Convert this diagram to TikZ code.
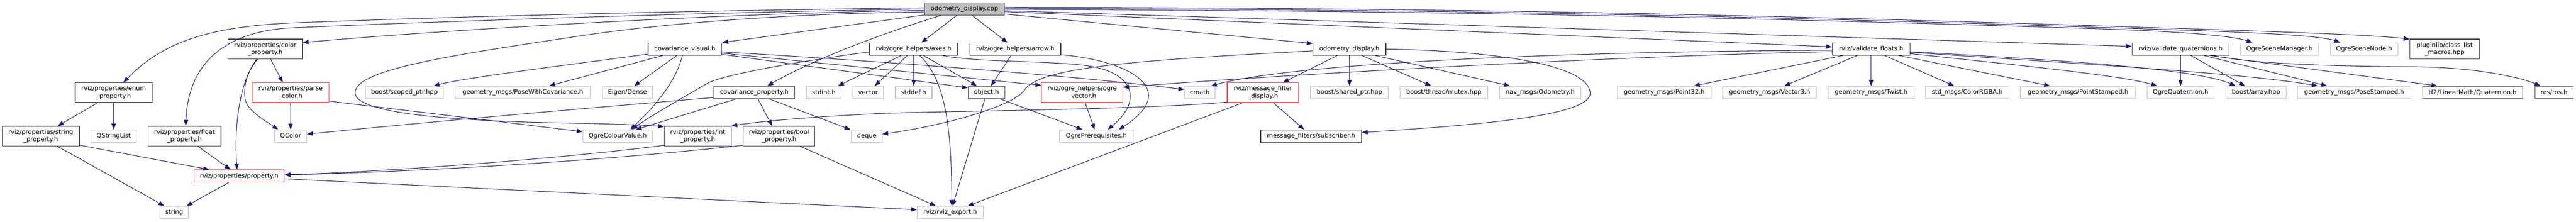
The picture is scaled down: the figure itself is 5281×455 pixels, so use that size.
\documentclass[tikz,border=0pt]{standalone}
\usepackage{fontspec}
\newfontfamily\dvs{DejaVu Sans}
\usetikzlibrary{arrows.meta}
\definecolor{edgec}{HTML}{191970}
\definecolor{docc}{HTML}{404040}
\definecolor{extc}{HTML}{BFBFBF}
\definecolor{redc}{HTML}{FF4444}
\definecolor{rootc}{HTML}{BFBFBF}
\begin{document}
\begin{tikzpicture}[x=1pt,y=-1pt,
 nbox/.style={draw, rectangle, inner sep=0pt, line width=1.2pt, font=\dvs\fontsize{12.7}{15}\selectfont, align=center, fill=white, text=black},
 docn/.style={nbox, draw=docc},
 extn/.style={nbox, draw=extc},
 redn/.style={nbox, draw=redc},
 rootn/.style={nbox, draw=docc, fill=rootc},
 one/.style={minimum height=25.5pt},
 two/.style={minimum height=40.5pt},
 wd/.style={minimum width=#1pt},
 dep/.style={draw=edgec, line width=1.1pt, -{Triangle[length=12pt,width=9pt]}}]
\fill[white] (0,0) rectangle (5281,455);
\useasboundingbox (0,0) rectangle (5281,455);

% row 0
\node[rootn,one,wd=164.5] (cpp) at (1977.2,18.5) {odometry\_display.cpp};
% row 1
\node[docn,two,wd=152.3] (colorp) at (543.8,100.5) {rviz/properties/color\\\_property.h};
\node[docn,one,wd=150.7] (covvis) at (1404,100.5) {covariance\_visual.h};
\node[docn,one,wd=180.6] (axes) at (1873.1,100.5) {rviz/ogre\_helpers/axes.h};
\node[docn,one,wd=186.7] (arrowh) at (2081.3,100.5) {rviz/ogre\_helpers/arrow.h};
\node[docn,one,wd=149.6] (odoh) at (2766.4,100.5) {odometry\_display.h};
\node[docn,one,wd=159.3] (valf) at (3836,100.5) {rviz/validate\_floats.h};
\node[docn,one,wd=199] (valq) at (4470.3,100.5) {rviz/validate\_quaternions.h};
\node[extn,one,wd=160] (scenemgr) at (4673.1,100.5) {OgreSceneManager.h};
\node[extn,one,wd=138.5] (scenenode) at (4846.5,100.5) {OgreSceneNode.h};
\node[docn,two,wd=142.7] (plugin) at (5011.7,100.5) {pluginlib/class\_list\\\_macros.hpp};
% row 2
\node[docn,two,wd=157.7] (enump) at (233,190) {rviz/properties/enum\\\_property.h};
\node[redn,two,wd=156.5] (parsec) at (595.7,190) {rviz/properties/parse\\\_color.h};
\node[extn,one,wd=160] (scoped) at (829.2,189.5) {boost/scoped\_ptr.hpp};
\node[extn,one,wd=277] (posecov) at (1071.8,189.5) {geometry\_msgs/PoseWithCovariance.h};
\node[extn,one,wd=103] (eigen) at (1286.3,189.5) {Eigen/Dense};
\node[docn,one,wd=166] (covprop) at (1546.3,189.5) {covariance\_property.h};
\node[extn,one,wd=70.7] (stdint) at (1688.9,189.5) {stdint.h};
\node[extn,one,wd=62.7] (vector) at (1779.7,189.5) {vector};
\node[extn,one,wd=75] (stddef) at (1873.1,189.5) {stddef.h};
\node[docn,one,wd=75] (object) at (2022.3,189.5) {object.h};
\node[redn,two,wd=166.8] (ogrevec) at (2218.6,190) {rviz/ogre\_helpers/ogre\\\_vector.h};
\node[extn,one,wd=62.8] (cmath) at (2459.7,189.5) {cmath};
\node[redn,two,wd=146.6] (mfd) at (2589.2,190) {rviz/message\_filter\\\_display.h};
\node[extn,one,wd=159.2] (sharedptr) at (2766.6,189.5) {boost/shared\_ptr.hpp};
\node[extn,one,wd=179.4] (mutex) at (2960,189.5) {boost/thread/mutex.hpp};
\node[extn,one,wd=166.8] (navodo) at (3157.3,189.5) {nav\_msgs/Odometry.h};
\node[extn,one,wd=192.1] (point32) at (3411.8,189.5) {geometry\_msgs/Point32.h};
\node[extn,one,wd=191.8] (vector3) at (3627.8,189.5) {geometry\_msgs/Vector3.h};
\node[extn,one,wd=176.3] (twist) at (3836,189.5) {geometry\_msgs/Twist.h};
\node[extn,one,wd=170.5] (colorrgba) at (4033,189.5) {std\_msgs/ColorRGBA.h};
\node[extn,one,wd=235.3] (pointst) at (4260,189.5) {geometry\_msgs/PointStamped.h};
\node[extn,one,wd=137.8] (ogrequat) at (4470.3,189.5) {OgreQuaternion.h};
\node[extn,one,wd=122.8] (boostarray) at (4625.1,189.5) {boost/array.hpp};
\node[extn,one,wd=232.1] (posest) at (4826.2,189.5) {geometry\_msgs/PoseStamped.h};
\node[docn,one,wd=205.4] (tf2) at (5069,189.5) {tf2/LinearMath/Quaternion.h};
\node[docn,one,wd=78.6] (rosh) at (5236,189.5) {ros/ros.h};
% row 3
\node[docn,two,wd=158] (strp) at (83.6,279) {rviz/properties/string\\\_property.h};
\node[extn,one,wd=93.3] (qstringlist) at (233,279) {QStringList};
\node[docn,two,wd=149.7] (floatp) at (378.3,279) {rviz/properties/float\\\_property.h};
\node[extn,one,wd=66.6] (qcolor) at (595.8,279) {QColor};
\node[extn,one,wd=142.8] (ogrecolour) at (1266.4,279) {OgreColourValue.h};
\node[docn,two,wd=137] (intp) at (1430.4,279) {rviz/properties/int\\\_property.h};
\node[docn,two,wd=147.4] (boolp) at (1597,279) {rviz/properties/bool\\\_property.h};
\node[extn,one,wd=62.6] (deque) at (1777,279) {deque};
\node[extn,one,wd=150.8] (ogreprereq) at (2247.7,279) {OgrePrerequisites.h};
\node[docn,one,wd=206.7] (subscriber) at (2687.8,279) {message\_filters/subscriber.h};
% rows 4-5
\node[redn,one,wd=184.8] (property) at (490.4,361) {rviz/properties/property.h};
\node[extn,one,wd=58.6] (string) at (357.2,435.5) {string};
\node[extn,one,wd=135] (rvizexport) at (1947.9,435.5) {rviz/rviz\_export.h};

% edges from the root
\draw[dep] ([yshift=2.5pt]cpp.west) .. controls (1400,22) and (900,35) .. (600,47) .. controls (420,55) and (330,90) .. ([xshift=20pt]enump.north);
\draw[dep] (cpp.west) .. controls (1400,26) and (800,48) .. (600,57) .. controls (450,64) and (385,140) .. ([xshift=2.5pt]floatp.north);
\draw[dep] ([yshift=-3pt]cpp.west) .. controls (1500,26) and (900,62) .. ([yshift=13.2pt]colorp.east);
\draw[dep] ([yshift=-6pt]cpp.west) .. controls (1600,28) and (1350,50) .. (1200,72) .. controls (950,110) and (728,140) .. (728,190) .. controls (728,240) and (1000,250) .. (1200,253) .. controls (1280,255) and (1330,257) .. ([yshift=-1.5pt]intp.north west);
\draw[dep] ([yshift=1pt]cpp.south west) -- ([xshift=1pt]covvis.north east);
\draw[dep] ([xshift=-49pt]cpp.south) .. controls (1830,62) and (1680,115) .. ([xshift=26.7pt]covprop.north);
\draw[dep] ([xshift=-16pt]cpp.south) -- ([xshift=16pt]axes.north);
\draw[dep] ([xshift=16pt]cpp.south) -- ([xshift=-16pt]arrowh.north);
\draw[dep] ([yshift=3pt]cpp.south east) -- ([yshift=-2pt]odoh.north west);
\draw[dep] ([yshift=-5.5pt]cpp.east) -- ([yshift=4.5pt]valf.west);
\draw[dep] ([yshift=-3.5pt]cpp.east) -- ([yshift=5.5pt]valq.west);
\draw[dep] ([yshift=-0.5pt]cpp.east) .. controls (2800,22) and (3400,30) .. (4300,59) .. controls (4500,65.5) and (4580,75) .. ([xshift=-55.5pt]scenemgr.north);
\draw[dep] ([yshift=1.5pt]cpp.east) .. controls (2800,19) and (3400,27) .. (4300,56) .. controls (4550,64) and (4750,70) .. ([xshift=-49pt]scenenode.north);
\draw[dep] ([yshift=3.5pt]cpp.east) .. controls (2800,16) and (3400,24) .. (4300,53) .. controls (4600,62.7) and (4850,70) .. ([yshift=-0.5pt]plugin.north west);

% covariance_visual.h
\draw[dep] ([yshift=-10.5pt]covvis.west) .. controls (1150,135) and (950,160) .. ([xshift=60pt]scoped.north);
\draw[dep] ([xshift=-45pt]covvis.south) -- ([xshift=54pt]posecov.north);
\draw[dep] ([xshift=-16.5pt]covvis.south) -- ([xshift=14pt]eigen.north);
\draw[dep] ([xshift=-5pt]covvis.south) .. controls (1385,170) and (1340,220) .. ([xshift=26pt]ogrecolour.north);
\draw[dep] ([yshift=-6pt]covvis.east) .. controls (1800,125) and (2200,155) .. ([yshift=6pt]cmath.west);
\draw[dep] ([yshift=-8.5pt]covvis.east) -- ([yshift=15pt]ogrevec.west);
\draw[dep] ([yshift=-11pt]covvis.east) -- ([yshift=9.5pt]object.west);

% axes.h
\draw[dep] ([yshift=-6pt]axes.west) .. controls (1620,128) and (1480,155) .. (1452,170) .. controls (1400,200) and (1330,240) .. ([xshift=29pt]ogrecolour.north);
\draw[dep] ([xshift=-25.4pt]axes.south) -- ([xshift=29pt]stdint.north);
\draw[dep] ([xshift=-13pt]axes.south) -- ([xshift=13.6pt]vector.north);
\draw[dep] (axes.south) -- (stddef.north);
\draw[dep] ([xshift=20pt]axes.south) -- ([xshift=-19.5pt]object.north);
\draw[dep] ([xshift=12pt]axes.south) .. controls (1935,160) and (1951,250) .. ([xshift=3.3pt]rvizexport.north);
\draw[dep] ([xshift=59pt]axes.south) .. controls (2000,128) and (2150,124) .. (2230,135) .. controls (2330,150) and (2340,210) .. ([xshift=23pt]ogreprereq.north);

% covariance_property.h
\draw[dep] ([yshift=-10.5pt]covprop.west) .. controls (1200,222) and (900,248) .. ([yshift=4pt]qcolor.east);
\draw[dep] ([xshift=-37pt]covprop.south) -- ([xshift=37pt]ogrecolour.north);
\draw[dep] ([xshift=7.7pt]covprop.south) -- ([xshift=-14.3pt]boolp.north);
\draw[dep] ([xshift=30.7pt]covprop.south) -- ([xshift=-33.6pt]deque.north);

% color_property.h, parse_color.h
\draw[dep] ([xshift=-17.6pt]colorp.south) .. controls (490,170) and (480,260) .. ([xshift=-4.4pt]property.north);
\draw[dep] ([xshift=-15.8pt]colorp.south) .. controls (505,150) and (500,175) .. (502,200) .. controls (504,225) and (540,245) .. ([xshift=-25.6pt]qcolor.north);
\draw[dep] ([xshift=11pt]colorp.south) -- ([xshift=-16pt]parsec.north);
\draw[dep] (parsec.south) -- (qcolor.north);
\draw[dep] ([yshift=-17.3pt]parsec.east) -- ([yshift=9pt]ogrecolour.west);

% enum, string, float, property
\draw[dep] ([xshift=-33.3pt]enump.south) -- ([xshift=35pt]strp.north);
\draw[dep] (enump.south) -- (qstringlist.north);
\draw[dep] ([yshift=-18.7pt]strp.east) -- ([xshift=-61.8pt]property.north);
\draw[dep] ([xshift=34pt]strp.south) -- ([xshift=-20.5pt]string.north);
\draw[dep] ([xshift=27.3pt]floatp.south) -- ([xshift=-17.8pt]property.north);
\draw[dep] ([xshift=-21.6pt]property.south) -- ([xshift=25.5pt]string.north);
\draw[dep] ([yshift=-5.7pt]property.east) -- ([yshift=5.5pt]rvizexport.west);

% int, bool
\draw[dep] ([yshift=-19pt]intp.west) .. controls (1150,325) and (800,352) .. ([yshift=2.7pt]property.east);
\draw[dep] ([yshift=-19pt]boolp.west) .. controls (1200,333) and (850,352) .. ([yshift=2.2pt]property.east);
\draw[dep] ([xshift=43pt]boolp.south) -- ([xshift=-29.3pt]rvizexport.north);

% object, arrow, ogre_vector
\draw[dep] ([xshift=28.4pt]object.south) -- ([xshift=-28.7pt]ogreprereq.north);
\draw[dep] ([xshift=-3.4pt]object.south) -- ([xshift=5.1pt]rvizexport.north);
\draw[dep] ([xshift=-8.5pt]arrowh.south) -- ([xshift=9.2pt]object.north);
\draw[dep] ([yshift=-11.8pt]arrowh.east) .. controls (2320,125) and (2420,185) .. ([xshift=46pt]ogreprereq.north);
\draw[dep] ([xshift=6.2pt]ogrevec.south) -- ([xshift=-3.8pt]ogreprereq.north);

% odometry_display.h
\draw[dep] ([yshift=-3.8pt]odoh.west) .. controls (2300,125) and (2130,140) .. (2100,185) .. controls (2080,215) and (1950,255) .. ([yshift=4pt]deque.east);
\draw[dep] ([xshift=-24.7pt]odoh.south) -- ([xshift=41pt]mfd.north);
\draw[dep] (odoh.south) -- (sharedptr.north);
\draw[dep] ([xshift=25.8pt]odoh.south) -- ([xshift=-26pt]mutex.north);
\draw[dep] ([xshift=52.6pt]odoh.south) -- ([xshift=-61.6pt]navodo.north);
\draw[dep] ([yshift=-0.2pt]odoh.east) .. controls (3050,104) and (3255,130) .. (3260,190) .. controls (3265,240) and (3000,258) .. ([yshift=7.3pt]subscriber.east);

% message_filter_display.h
\draw[dep] ([xshift=21.3pt]mfd.south) -- ([xshift=-14.2pt]subscriber.north);
\draw[dep] ([yshift=-19.3pt]mfd.west) .. controls (2350,225) and (1900,228) .. (1800,233) .. controls (1650,240) and (1550,250) .. (intp.north east);
\draw[dep] ([xshift=-41.9pt]mfd.south) -- ([xshift=36pt]rvizexport.north);

% validate_floats.h
\draw[dep] ([yshift=-2.8pt]valf.west) .. controls (3200,105) and (2650,130) .. ([xshift=23pt]cmath.north);
\draw[dep] ([yshift=-5.5pt]valf.west) .. controls (3300,115) and (2600,155) .. ([yshift=11pt]ogrevec.east);
\draw[dep] ([xshift=-57.4pt]valf.south) -- ([xshift=60.8pt]point32.north);
\draw[dep] ([xshift=-28.4pt]valf.south) -- ([xshift=30.2pt]vector3.north);
\draw[dep] (valf.south) -- (twist.north);
\draw[dep] ([xshift=27.4pt]valf.south) -- ([xshift=-26.7pt]colorrgba.north);
\draw[dep] ([xshift=56.4pt]valf.south) -- ([xshift=-57.3pt]pointst.north);
\draw[dep] ([yshift=-9.5pt]valf.east) .. controls (4150,135) and (4350,155) .. ([xshift=-48pt]ogrequat.north);
\draw[dep] ([yshift=-5.5pt]valf.east) .. controls (4200,122) and (4500,140) .. ([xshift=-42pt]boostarray.north);
\draw[dep] ([yshift=-6.8pt]valf.east) .. controls (4250,130) and (4600,150) .. ([xshift=-74.6pt]posest.north);

% validate_quaternions.h
\draw[dep] (valq.south) -- (ogrequat.north);
\draw[dep] ([xshift=21pt]valq.south) -- ([xshift=-22.8pt]boostarray.north);
\draw[dep] ([xshift=47.8pt]valq.south) -- ([xshift=-55.5pt]posest.north);
\draw[dep] ([xshift=59.3pt]valq.south) -- ([xshift=-72.3pt]tf2.north);
\draw[dep] ([xshift=67pt]valq.south) .. controls (4620,132) and (4800,136) .. (4950,137) .. controls (5080,138) and (5170,160) .. ([xshift=-28pt]rosh.north);
\end{tikzpicture}
\end{document}
